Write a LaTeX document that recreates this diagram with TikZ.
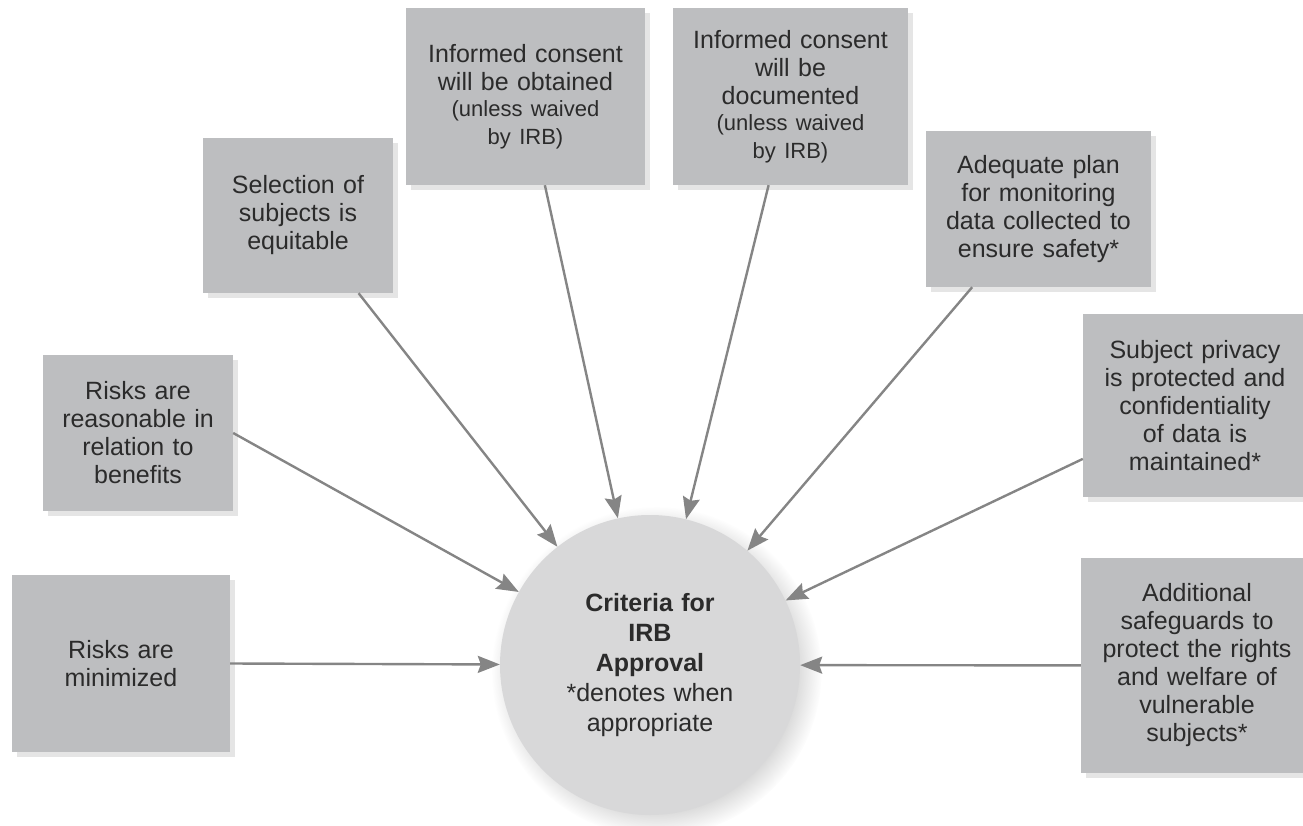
\documentclass[tikz,border=0pt]{standalone}
\usepackage{fontspec}
\setmainfont{Liberation Sans}
\usetikzlibrary{arrows.meta,shadows}

\definecolor{boxgray}{HTML}{BDBEC0}
\definecolor{discgray}{HTML}{D8D8D9}
\definecolor{wiregray}{HTML}{858585}
\definecolor{inkgray}{HTML}{2B2B2B}

\newcommand{\unlesswaived}{{\fontsize{22}{26}\selectfont (unless waived\\ by IRB)}}

\begin{document}
\begin{tikzpicture}[x=1pt, y=-1pt,
    req/.style={rectangle, fill=boxgray, inner sep=0pt, align=center, text=inkgray,
        font=\fontsize{25}{28}\selectfont,
        drop shadow={shadow xshift=5pt, shadow yshift=-5pt, fill=black!10, opacity=1}},
    crit/.style={circle, fill=discgray, minimum size=300pt, inner sep=0pt, align=center,
        text width=210pt, text=inkgray, font=\fontsize{25}{30}\selectfont,
        circular drop shadow={shadow xshift=6pt, shadow yshift=-6pt, fill=black!14, opacity=1}},
    feed/.style={draw=wiregray, line width=2.4pt, -{Stealth[length=22pt, width=17pt, inset=3pt]}}]

    \useasboundingbox (0,0) rectangle (1303,826);

    \node[crit] (crit) at (650,665) {\textbf{Criteria for}\\ \textbf{IRB}\\ \textbf{Approval}\\ {*}denotes when\\ appropriate};

    % top row
    \node[req, minimum width=190pt, minimum height=155pt, text width=180pt] (sel) at (298,215.5)
        {Selection of\\ subjects is\\ equitable};
    \node[req, minimum width=239pt, minimum height=177pt, text width=229pt] (obt) at (525.5,96.5)
        {Informed consent\\ will be obtained\\ \unlesswaived};
    \node[req, minimum width=235pt, minimum height=177pt, text width=225pt] (doc) at (790.5,96.5)
        {Informed consent\\ will be\\ documented\\ \unlesswaived};
    \node[req, minimum width=225pt, minimum height=156pt, text width=215pt] (mon) at (1038.5,209)
        {Adequate plan\\ for monitoring\\ data collected to\\ ensure safety*};

    % right column
    \node[req, minimum width=224pt, minimum height=183pt, text width=214pt] (priv) at (1195,405.5)
        {Subject privacy\\ is protected and\\ confidentiality\\ of data is\\ maintained*};
    \node[req, minimum width=232pt, minimum height=215pt, text width=222pt] (safe) at (1197,665.5)
        {Additional\\ safeguards to\\ protect the rights\\ and welfare of\\ vulnerable\\ subjects*};

    % left column
    \node[req, minimum width=190pt, minimum height=156pt, text width=180pt] (risk) at (138,433)
        {Risks are\\ reasonable in\\ relation to\\ benefits};
    \node[req, minimum width=218pt, minimum height=177pt, text width=208pt] (mini) at (121,663.5)
        {Risks are\\ minimized};

    \draw[feed] (sel) -- (crit);
    \draw[feed] (obt) -- (crit);
    \draw[feed] (doc) -- (crit);
    \draw[feed] (mon) -- (crit);
    \draw[feed] (priv) -- (crit);
    \draw[feed] (safe) -- (crit);
    \draw[feed] (risk.east) -- (crit);
    \draw[feed] (mini.east) -- (crit);

\end{tikzpicture}
\end{document}
